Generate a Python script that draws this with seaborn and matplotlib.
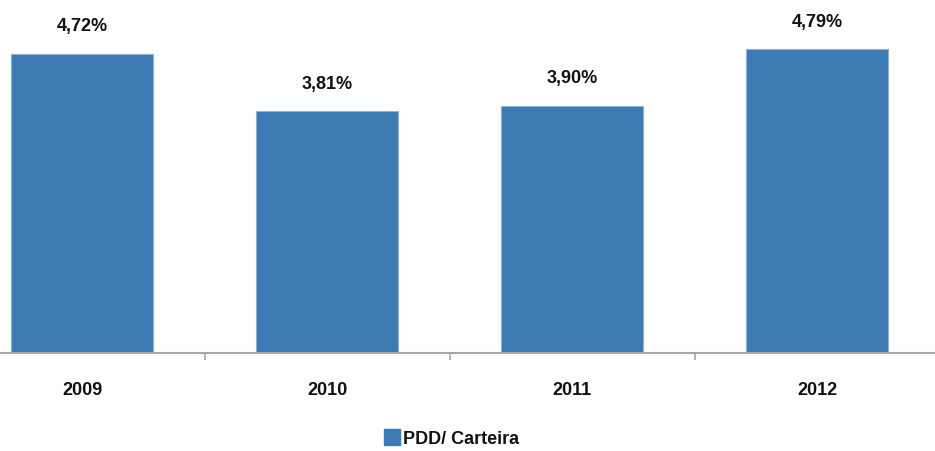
import matplotlib
matplotlib.use("Agg")
import matplotlib.pyplot as plt
import seaborn as sns
import pandas as pd
from matplotlib.patches import Patch

years = ["2009", "2010", "2011", "2012"]
pdd_carteira = [4.72, 3.81, 3.90, 4.79]
labels = ["4,72%", "3,81%", "3,90%", "4,79%"]
series_name = "PDD/ Carteira"

bar_color = "#3D7AB3"

sns.set_style("white")
plt.rcParams["font.family"] = ["Liberation Sans Narrow", "Liberation Sans", "DejaVu Sans"]

df = pd.DataFrame({"ano": years, "valor": pdd_carteira})

fig = plt.figure(figsize=(9.35, 4.52), dpi=100)
ax = fig.add_axes([0, 98 / 452, 1, 354 / 452])

sns.barplot(data=df, x="ano", y="valor", color=bar_color, saturation=1,
            width=0.58, edgecolor="#8DB0D6", linewidth=0.8, ax=ax)

ax.set_xlim(-0.335, 3.48)
ax.set_ylim(0, 5.58)

# rotulos de dados acima das barras
for i, (v, txt) in enumerate(zip(pdd_carteira, labels)):
    ax.annotate(txt, (i, v), xytext=(0, 20), textcoords="offset points",
                ha="center", va="center", fontsize=13, fontweight="bold",
                color="#111111")

for side in ["top", "left", "right"]:
    ax.spines[side].set_visible(False)
ax.spines["bottom"].set_color("#A6A6A6")
ax.spines["bottom"].set_linewidth(1.5)

ax.set_yticks([])
ax.set_xlabel("")
ax.set_ylabel("")
ax.tick_params(axis="x", which="major", length=0, pad=20, labelsize=13)
for lbl in ax.get_xticklabels():
    lbl.set_fontweight("bold")
    lbl.set_color("#111111")
ax.set_xticks([0.5, 1.5, 2.5], minor=True)
ax.tick_params(axis="x", which="minor", bottom=True, length=5, width=1.2,
               color="#A6A6A6", direction="out")

handles = [Patch(facecolor=bar_color, edgecolor=bar_color, label=series_name)]
leg = fig.legend(handles=handles, loc="center", bbox_to_anchor=(452 / 935, 13 / 452),
                 frameon=False, handlelength=0.85, handleheight=1.0,
                 handletextpad=0.2, borderpad=0,
                 prop={"size": 13, "weight": "bold"})
for t in leg.get_texts():
    t.set_color("#111111")

fig.savefig("out.png", dpi=100)
